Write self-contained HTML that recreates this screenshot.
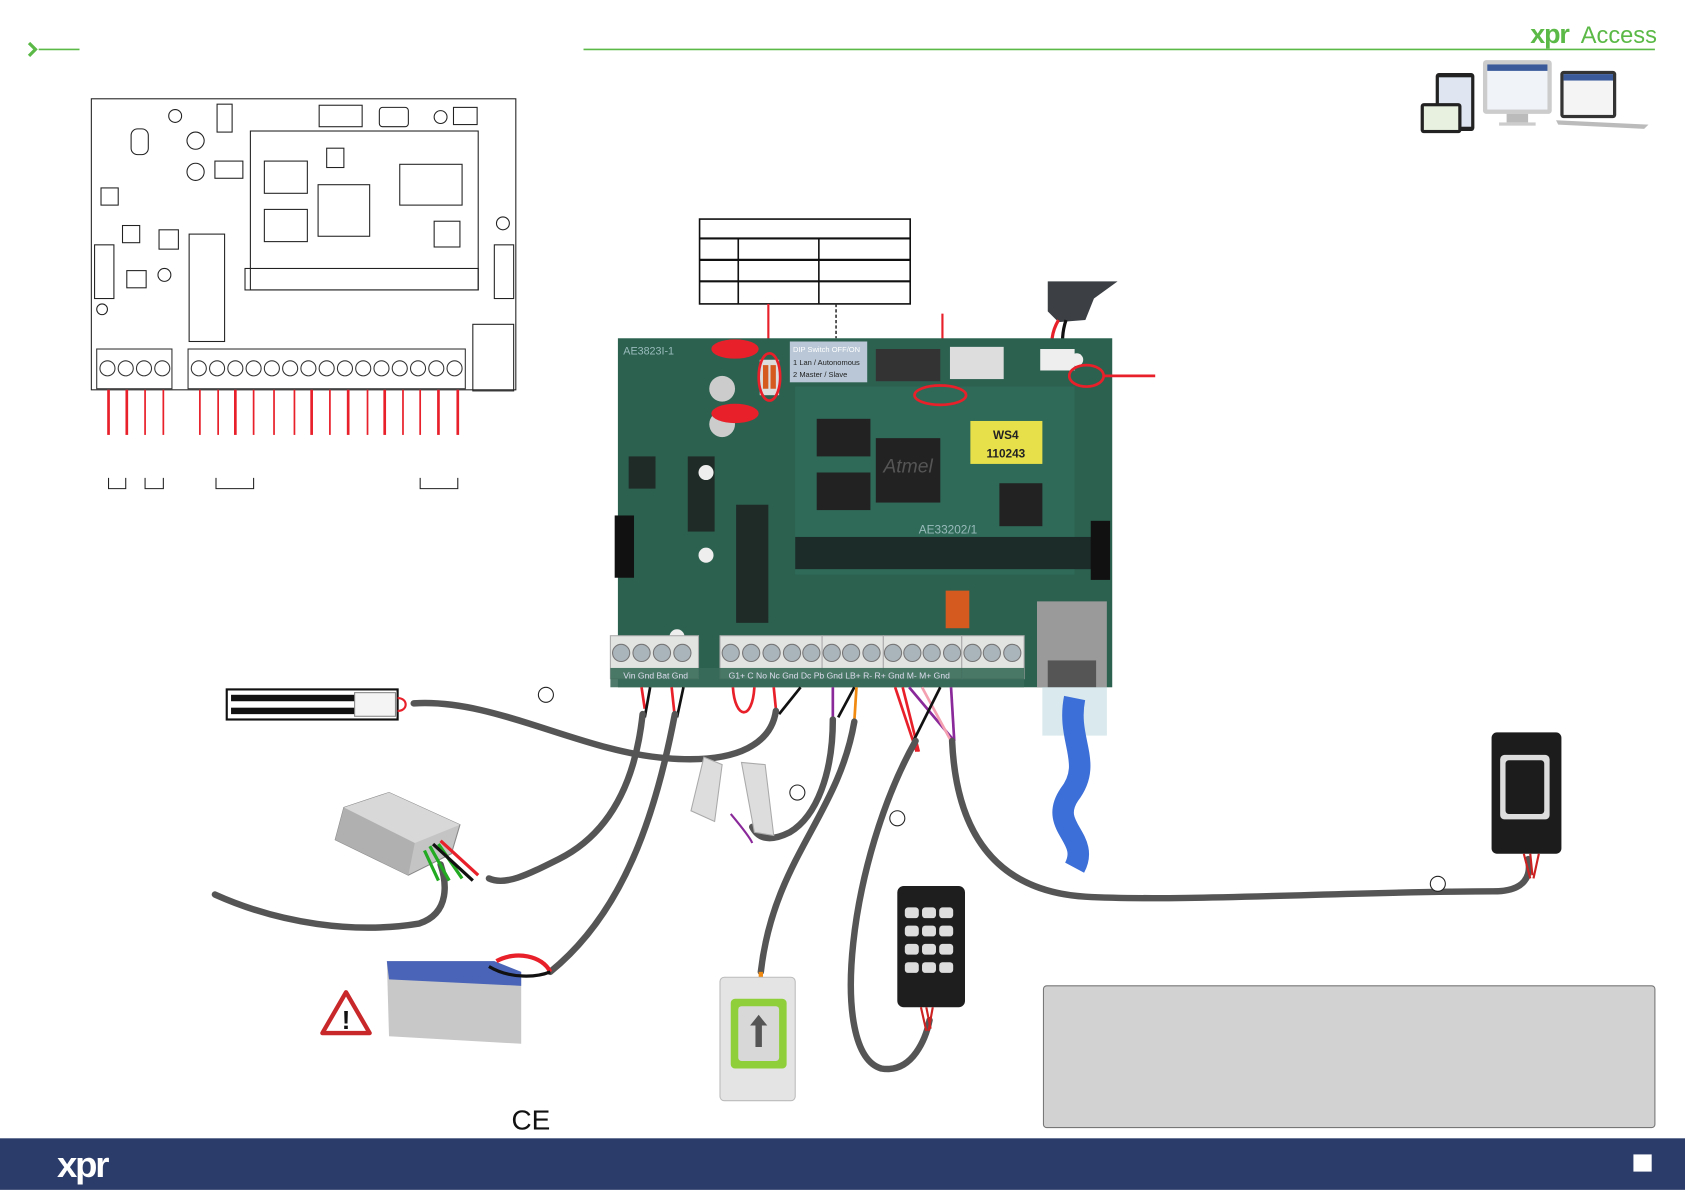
<!DOCTYPE html>
<html><head><meta charset="utf-8"><style>
html,body{margin:0;padding:0;background:#fff;}
svg{display:block;}
text{font-family:"Liberation Sans",sans-serif;}
</style></head><body>
<svg width="1685" height="1192" viewBox="0 0 1568 1110" preserveAspectRatio="none" xmlns="http://www.w3.org/2000/svg">
<rect width="1568" height="1110" fill="#fff"/>
<path d="M27 40 L33 46 L27 52" fill="none" stroke="#5bb947" stroke-width="3"/>
<line x1="36" y1="46" x2="74" y2="46" stroke="#5bb947" stroke-width="1.5"/>
<line x1="543" y1="46" x2="1540" y2="46" stroke="#5bb947" stroke-width="1.5"/>
<text x="1424" y="40" font-size="25" font-weight="bold" fill="#5bb947" letter-spacing="-1">xpr</text>
<text x="1471" y="40" font-size="22" fill="#5bb947">Access</text>
<g>
<rect x="1336" y="68" width="36" height="54" rx="3" fill="#222"/><rect x="1339" y="72" width="30" height="46" fill="#dfe6f2"/>
<rect x="1322" y="96" width="38" height="28" rx="3" fill="#222"/><rect x="1325" y="99" width="32" height="22" fill="#e8f0e0"/>
<rect x="1380" y="56" width="64" height="50" rx="3" fill="#ccc"/><rect x="1384" y="60" width="56" height="42" fill="#f0f3f8"/><rect x="1384" y="60" width="56" height="6" fill="#3a5a9a"/>
<rect x="1402" y="106" width="20" height="8" fill="#bbb"/><rect x="1395" y="114" width="34" height="3" fill="#ccc"/>
<rect x="1452" y="66" width="52" height="44" rx="3" fill="#333"/><rect x="1455" y="69" width="46" height="38" fill="#f4f4f4"/><rect x="1455" y="69" width="46" height="6" fill="#3a5a9a"/>
<path d="M1448 112 L1534 116 L1530 120 L1450 116Z" fill="#bbb"/>
</g>
<g fill="none" stroke="#222" stroke-width="1">
<rect x="85" y="92" width="395" height="271"/>
<rect x="233" y="122" width="212" height="148"/>
<rect x="228" y="250" width="217" height="20"/>
<rect x="176" y="218" width="33" height="100"/>
<rect x="246" y="150" width="40" height="30"/><rect x="246" y="195" width="40" height="30"/>
<rect x="296" y="172" width="48" height="48"/><rect x="372" y="153" width="58" height="38"/>
<rect x="404" y="206" width="24" height="24"/><rect x="304" y="138" width="16" height="18"/>
<circle cx="163" cy="108" r="6"/><circle cx="182" cy="131" r="8"/><circle cx="182" cy="160" r="8"/>
<circle cx="410" cy="109" r="6"/><circle cx="468" cy="208" r="6"/><circle cx="153" cy="256" r="6"/><circle cx="95" cy="288" r="5"/>
<rect x="202" y="97" width="14" height="26"/><rect x="297" y="98" width="40" height="20"/><rect x="353" y="100" width="27" height="18" rx="3"/><rect x="422" y="100" width="22" height="16"/>
<rect x="122" y="120" width="16" height="24" rx="6"/><rect x="94" y="175" width="16" height="16"/><rect x="114" y="210" width="16" height="16"/><rect x="148" y="214" width="18" height="18"/>
<rect x="118" y="252" width="18" height="16"/><rect x="200" y="150" width="26" height="16"/>
<rect x="88" y="228" width="18" height="50"/><rect x="460" y="228" width="18" height="50"/>
<rect x="440" y="302" width="38" height="62"/>
</g>
<g fill="#fff" stroke="#333" stroke-width="1">
<rect x="90" y="325" width="70" height="37"/><rect x="175" y="325" width="258" height="37"/>
</g>
<g fill="#fff" stroke="#333" stroke-width="1">
<circle cx="100" cy="343" r="7"/><circle cx="117" cy="343" r="7"/><circle cx="134" cy="343" r="7"/><circle cx="151" cy="343" r="7"/>
<circle cx="185" cy="343" r="7"/><circle cx="202" cy="343" r="7"/><circle cx="219" cy="343" r="7"/><circle cx="236" cy="343" r="7"/><circle cx="253" cy="343" r="7"/><circle cx="270" cy="343" r="7"/><circle cx="287" cy="343" r="7"/><circle cx="304" cy="343" r="7"/><circle cx="321" cy="343" r="7"/><circle cx="338" cy="343" r="7"/><circle cx="355" cy="343" r="7"/><circle cx="372" cy="343" r="7"/><circle cx="389" cy="343" r="7"/><circle cx="406" cy="343" r="7"/><circle cx="423" cy="343" r="7"/>
</g>
<g stroke="#e8202a" stroke-width="1.6">
<line x1="101" y1="363" x2="101" y2="405" stroke-width="2.5"/><line x1="118" y1="363" x2="118" y2="405" stroke-width="2.5"/><line x1="135" y1="363" x2="135" y2="405"/><line x1="152" y1="363" x2="152" y2="405"/>
<line x1="186" y1="363" x2="186" y2="405"/><line x1="203" y1="363" x2="203" y2="405"/><line x1="219" y1="363" x2="219" y2="405" stroke-width="2.5"/><line x1="236" y1="363" x2="236" y2="405"/><line x1="255" y1="363" x2="255" y2="405"/><line x1="274" y1="363" x2="274" y2="405"/><line x1="290" y1="363" x2="290" y2="405" stroke-width="2.5"/><line x1="307" y1="363" x2="307" y2="405"/><line x1="324" y1="363" x2="324" y2="405" stroke-width="2.5"/><line x1="342" y1="363" x2="342" y2="405"/><line x1="358" y1="363" x2="358" y2="405" stroke-width="2.5"/><line x1="375" y1="363" x2="375" y2="405"/><line x1="391" y1="363" x2="391" y2="405"/><line x1="408" y1="363" x2="408" y2="405" stroke-width="2.5"/><line x1="426" y1="363" x2="426" y2="405" stroke-width="2.5"/>
</g>
<g fill="none" stroke="#222" stroke-width="1">
<path d="M101 445 V455 H117 V445"/><path d="M135 445 V455 H152 V445"/><path d="M201 445 V455 H236 V445"/><path d="M391 445 V455 H426 V445"/>
</g>
<g fill="none" stroke="#111" stroke-width="1.5">
<rect x="651" y="204" width="196" height="79"/>
<line x1="651" y1="222" x2="847" y2="222" stroke-width="2"/><line x1="651" y1="242" x2="847" y2="242" stroke-width="2"/><line x1="651" y1="262" x2="847" y2="262" stroke-width="2"/>
<line x1="687" y1="222" x2="687" y2="283"/><line x1="762" y1="222" x2="762" y2="283"/>
</g>
<line x1="715" y1="283" x2="715" y2="340" stroke="#e8202a" stroke-width="2"/>
<line x1="778" y1="283" x2="778" y2="315" stroke="#333" stroke-width="1.5" stroke-dasharray="3,2"/>
<line x1="877" y1="292" x2="877" y2="362" stroke="#e8202a" stroke-width="2"/>
<path d="M975 262 L1040 262 L1018 278 L1010 298 L985 300 L975 290Z" fill="#3c4045"/>
<path d="M985 298 C978 310 978 320 980 330" stroke="#e8202a" stroke-width="3" fill="none"/>
<path d="M992 298 C988 310 988 320 990 330" stroke="#111" stroke-width="3" fill="none"/>
<rect x="575" y="315" width="460" height="325" fill="#2c6150"/>
<rect x="740" y="360" width="260" height="175" fill="#2f6a58"/>
<rect x="735" y="318" width="72" height="38" fill="#b9c7d6"/>
<text x="738" y="328" font-size="7" fill="#fff">DIP Switch OFF/ON</text>
<text x="738" y="340" font-size="7" fill="#222">1 Lan / Autonomous</text>
<text x="738" y="351" font-size="7" fill="#222">2 Master / Slave</text>
<rect x="707" y="335" width="18" height="33" fill="#ddd"/><rect x="710" y="340" width="5" height="22" fill="#d45a20"/><rect x="717" y="340" width="5" height="22" fill="#d45a20"/>
<rect x="815" y="325" width="60" height="30" fill="#333"/><rect x="884" y="323" width="50" height="30" fill="#ddd"/>
<rect x="968" y="325" width="32" height="20" fill="#eee"/>
<rect x="760" y="390" width="50" height="35" fill="#222"/><rect x="760" y="440" width="50" height="35" fill="#222"/>
<rect x="815" y="408" width="60" height="60" fill="#222"/><text x="822" y="440" font-size="18" fill="#555" font-style="italic">Atmel</text>
<rect x="903" y="392" width="67" height="40" fill="#e7e04a"/>
<text x="936" y="409" font-size="11" font-weight="bold" text-anchor="middle" fill="#222">WS4</text>
<text x="936" y="426" font-size="11" font-weight="bold" text-anchor="middle" fill="#222">110243</text>
<rect x="930" y="450" width="40" height="40" fill="#222"/>
<rect x="740" y="500" width="290" height="30" fill="#1c2c28"/>
<rect x="685" y="470" width="30" height="110" fill="#1f2b27"/>
<rect x="640" y="425" width="25" height="70" fill="#1f2b27"/><rect x="585" y="425" width="25" height="30" fill="#1f2b27"/>
<rect x="572" y="480" width="18" height="58" fill="#111"/><rect x="1015" y="485" width="18" height="55" fill="#111"/>
<circle cx="672" cy="362" r="12" fill="#ccc"/><circle cx="672" cy="395" r="12" fill="#ccc"/>
<circle cx="657" cy="440" r="7" fill="#eee"/><circle cx="657" cy="517" r="7" fill="#eee"/><circle cx="630" cy="593" r="7" fill="#eee"/><circle cx="1002" cy="335" r="6" fill="#eee"/>
<rect x="880" y="550" width="22" height="35" fill="#d45a20"/>
<text x="580" y="330" font-size="10" fill="#9bb">AE3823I-1</text>
<text x="855" y="497" font-size="11" fill="#9bb">AE33202/1</text>
<rect x="965" y="560" width="65" height="80" fill="#9a9a9a"/>
<rect x="975" y="615" width="45" height="25" fill="#555"/>
<rect x="970" y="640" width="60" height="45" fill="#cfe3ea" opacity="0.8"/>
<path d="M1000 650 C992 690 1018 710 995 740 C975 770 1015 780 1000 808" stroke="#3d6fd8" stroke-width="20" fill="none"/>
<g fill="#e2e4e2" stroke="#aaa" stroke-width="1">
<rect x="568" y="592" width="82" height="40"/><rect x="670" y="592" width="95" height="40"/><rect x="765" y="592" width="57" height="40"/><rect x="822" y="592" width="73" height="40"/><rect x="895" y="592" width="58" height="40"/>
</g>
<g fill="#aab4bb" stroke="#777" stroke-width="1">
<circle cx="578" cy="608" r="8"/><circle cx="597" cy="608" r="8"/><circle cx="616" cy="608" r="8"/><circle cx="635" cy="608" r="8"/>
<circle cx="680" cy="608" r="8"/><circle cx="699" cy="608" r="8"/><circle cx="718" cy="608" r="8"/><circle cx="737" cy="608" r="8"/><circle cx="755" cy="608" r="8"/>
<circle cx="774" cy="608" r="8"/><circle cx="792" cy="608" r="8"/><circle cx="811" cy="608" r="8"/>
<circle cx="831" cy="608" r="8"/><circle cx="849" cy="608" r="8"/><circle cx="867" cy="608" r="8"/><circle cx="886" cy="608" r="8"/>
<circle cx="905" cy="608" r="8"/><circle cx="923" cy="608" r="8"/><circle cx="942" cy="608" r="8"/>
</g>
<rect x="568" y="622" width="385" height="18" fill="#3a6b5a" opacity="0.9"/>
<text x="580" y="632" font-size="8" fill="#dde">Vin Gnd Bat Gnd</text>
<text x="678" y="632" font-size="8" fill="#dde">G1+  C   No  Nc Gnd Dc  Pb Gnd LB+ R-  R+  Gnd M-  M+  Gnd</text>
<g fill="none" stroke="#e8202a" stroke-width="2.5">
<ellipse cx="716" cy="351" rx="10" ry="22"/><ellipse cx="875" cy="368" rx="24" ry="9"/><ellipse cx="1011" cy="350" rx="16" ry="10"/>
</g>
<line x1="1027" y1="350" x2="1075" y2="350" stroke="#e8202a" stroke-width="2.5"/>
<ellipse cx="684" cy="325" rx="22" ry="9" fill="#e8202a"/><ellipse cx="684" cy="385" rx="22" ry="9" fill="#e8202a"/>
<g fill="none" stroke-width="2.5">
<path d="M597 640 L600 660" stroke="#e8202a"/><path d="M605 640 L600 668" stroke="#111"/>
<path d="M625 640 L628 668" stroke="#e8202a"/><path d="M636 640 L630 668" stroke="#111"/>
<path d="M682 640 C684 670 700 672 702 640" stroke="#e8202a"/>
<path d="M720 640 L722 660" stroke="#e8202a"/><path d="M745 640 L725 665" stroke="#111"/>
<path d="M775 640 L775 670" stroke="#8a2a9a"/><path d="M795 640 L780 668" stroke="#111"/><path d="M797 640 L795 672" stroke="#f08a10"/>
<path d="M833 640 L853 700" stroke="#e8202a"/><path d="M840 640 L855 700" stroke="#e8202a"/><path d="M846 640 L888 690" stroke="#8a2a9a"/><path d="M858 640 L885 690" stroke="#f4a0b0"/><path d="M875 640 L850 690" stroke="#111"/><path d="M885 640 L888 690" stroke="#8a2a9a"/>
</g>
<g fill="none" stroke="#555" stroke-width="6" stroke-linecap="round">
<path d="M385 655 C460 650 540 700 620 706 C690 712 718 690 722 662"/>
<path d="M598 665 C590 740 560 780 520 800 C490 815 470 825 455 818"/>
<path d="M628 665 C610 760 580 850 512 905"/>
<path d="M775 670 C775 720 760 760 735 775 C715 785 705 780 700 770"/>
<path d="M795 672 C780 760 720 800 708 905"/>
<path d="M852 690 C790 800 770 980 820 995 C850 1000 862 965 865 950"/>
<path d="M886 690 C890 780 930 830 1010 835 C1100 840 1260 830 1390 830 C1420 830 1425 815 1422 800"/>
<path d="M200 833 C260 860 330 870 390 860 C420 850 415 820 410 805"/>
</g>
<rect x="211" y="642" width="159" height="28" fill="#fff" stroke="#111" stroke-width="2"/>
<rect x="215" y="647" width="115" height="6" fill="#111"/><rect x="215" y="659" width="115" height="6" fill="#111"/>
<rect x="330" y="645" width="38" height="22" fill="#f4f4f4" stroke="#888"/>
<path d="M370 650 C380 650 380 662 370 662" stroke="#e8202a" stroke-width="2" fill="none"/>
<!-- PSU -->
<path d="M320 752 L362 738 L428 768 L420 795 L380 815 L312 782Z" fill="#c4c4c4" stroke="#888"/>
<path d="M320 752 L362 738 L428 768 L386 785Z" fill="#d8d8d8"/>
<path d="M386 785 L380 815 L312 782 L320 752Z" fill="#b0b0b0"/>
<path d="M400 788 L418 820 M408 786 L430 818 M395 792 L408 820" stroke="#2a2" stroke-width="3"/>
<path d="M410 783 L445 815" stroke="#e8202a" stroke-width="3"/><path d="M403 786 L440 820" stroke="#111" stroke-width="3"/>
<path d="M360 895 L460 895 L485 905 L485 972 L362 965Z" fill="#c8c8c8"/>
<path d="M360 895 L460 895 L485 905 L485 918 L362 912Z" fill="#4a64b8"/>
<path d="M462 895 C480 885 505 890 512 905" stroke="#e8202a" stroke-width="4" fill="none"/>
<path d="M455 900 C475 912 500 910 512 905" stroke="#111" stroke-width="3" fill="none"/>
<path d="M322 924 L344 962 L300 962Z" fill="#fff" stroke="#c8282a" stroke-width="4" stroke-linejoin="round"/>
<text x="322" y="958" font-size="24" font-weight="bold" text-anchor="middle" fill="#111">!</text>
<path d="M655 705 L672 712 L665 765 L643 755Z" fill="#ddd" stroke="#aaa"/>
<path d="M690 710 L712 712 L720 778 L702 775Z" fill="#ddd" stroke="#aaa"/>
<path d="M680 758 C690 770 698 780 700 785" stroke="#8a2a9a" stroke-width="2" fill="none"/>
<path d="M708 905 L708 910" stroke="#f08a10" stroke-width="4"/>
<rect x="670" y="910" width="70" height="115" rx="4" fill="#e4e4e4" stroke="#bbb"/>
<rect x="680" y="930" width="52" height="65" rx="4" fill="#8fd03a"/>
<rect x="687" y="937" width="38" height="51" rx="3" fill="#d8d8d8"/>
<path d="M706 945 L714 955 L709 955 L709 975 L703 975 L703 955 L698 955Z" fill="#555"/>
<rect x="835" y="825" width="63" height="113" rx="6" fill="#1e1e1e"/>
<g fill="#ddd">
<rect x="842" y="845" width="13" height="10" rx="3"/><rect x="858" y="845" width="13" height="10" rx="3"/><rect x="874" y="845" width="13" height="10" rx="3"/>
<rect x="842" y="862" width="13" height="10" rx="3"/><rect x="858" y="862" width="13" height="10" rx="3"/><rect x="874" y="862" width="13" height="10" rx="3"/>
<rect x="842" y="879" width="13" height="10" rx="3"/><rect x="858" y="879" width="13" height="10" rx="3"/><rect x="874" y="879" width="13" height="10" rx="3"/>
<rect x="842" y="896" width="13" height="10" rx="3"/><rect x="858" y="896" width="13" height="10" rx="3"/><rect x="874" y="896" width="13" height="10" rx="3"/>
</g>
<path d="M857 938 L862 960 M862 938 L866 958 M868 938 L864 960" stroke="#c22" stroke-width="2"/>
<rect x="1388" y="682" width="65" height="113" rx="5" fill="#1c1c1c"/>
<rect x="1396" y="703" width="46" height="60" rx="4" fill="#ddd"/><rect x="1401" y="708" width="36" height="50" rx="3" fill="#1c1c1c"/>
<path d="M1418 795 L1424 818 M1424 795 L1426 815 M1432 795 L1427 818" stroke="#c22" stroke-width="2"/>
<g fill="#fff" stroke="#222" stroke-width="1">
<ellipse cx="508" cy="647" rx="7" ry="7"/><ellipse cx="742" cy="738" rx="7" ry="7"/><ellipse cx="835" cy="762" rx="7" ry="7"/><ellipse cx="1338" cy="823" rx="7" ry="7"/>
</g>
<text x="476" y="1052" font-size="26" fill="#111">CE</text>
<rect x="971" y="918" width="569" height="132" rx="3" fill="#d2d2d2" stroke="#777" stroke-width="1"/>
<rect x="0" y="1060" width="1568" height="48" fill="#2b3c6b"/>
<text x="53" y="1096" font-size="34" font-weight="bold" fill="#fff" letter-spacing="-2">xpr</text>
<rect x="1520" y="1075" width="17" height="16" fill="#fff"/>
</svg>
</body></html>
